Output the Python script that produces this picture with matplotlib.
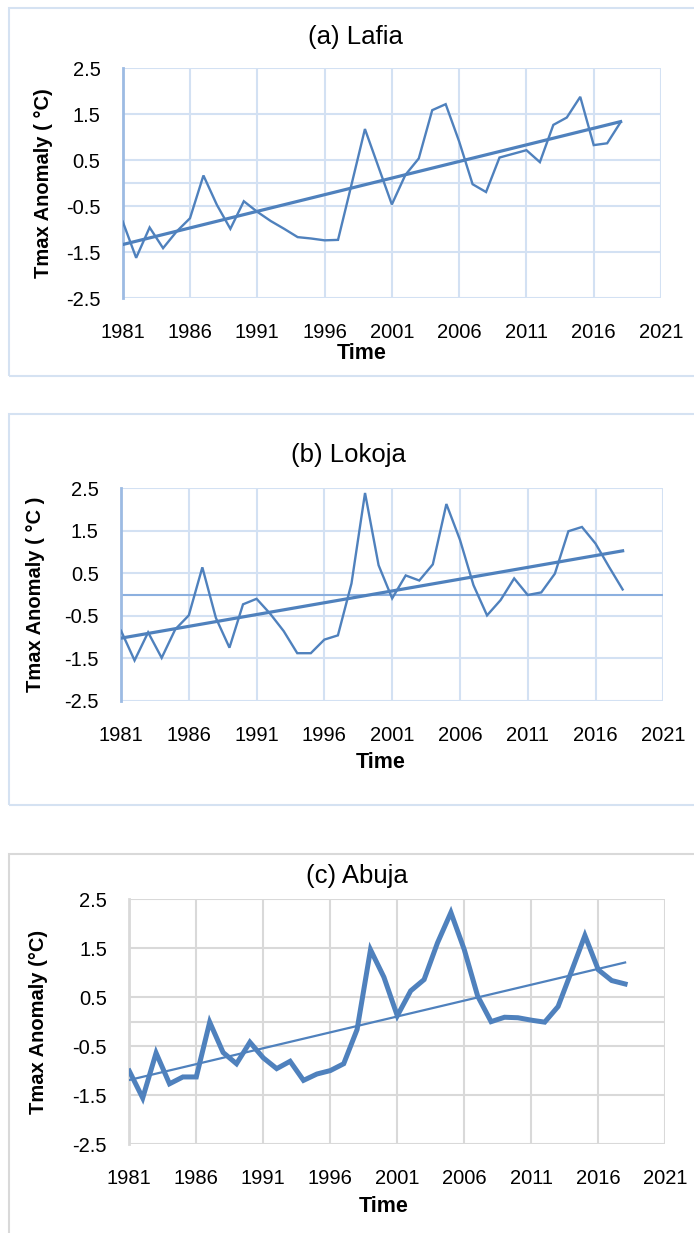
import matplotlib
matplotlib.use('Agg')
import matplotlib.pyplot as plt
from matplotlib.patches import Rectangle
import numpy as np

plt.rcParams['font.family'] = ['Liberation Sans', 'DejaVu Sans']

years = np.arange(1981, 2019)

# Tmax anomalies (degC) per station
lafia = [-0.83, -1.62, -0.96, -1.41, -1.05, -0.76, 0.17, -0.47, -0.99, -0.39,
         -0.62, -0.82, -0.99, -1.17, -1.20, -1.24, -1.23, -0.03, 1.18, 0.36,
         -0.46, 0.18, 0.54, 1.59, 1.72, 0.91, -0.02, -0.19, 0.56, 0.64,
         0.72, 0.46, 1.27, 1.43, 1.88, 0.83, 0.87, 1.33]
lokoja = [-0.85, -1.55, -0.89, -1.49, -0.82, -0.49, 0.64, -0.55, -1.25, -0.23,
          -0.10, -0.45, -0.86, -1.38, -1.38, -1.06, -0.96, 0.26, 2.39, 0.69,
          -0.09, 0.45, 0.33, 0.71, 2.13, 1.29, 0.22, -0.49, -0.13, 0.38,
          -0.01, 0.05, 0.49, 1.49, 1.59, 1.20, 0.65, 0.12]
abuja = [-1.01, -1.56, -0.64, -1.27, -1.13, -1.13, -0.01, -0.63, -0.86, -0.42,
         -0.74, -0.96, -0.81, -1.20, -1.07, -1.00, -0.86, -0.16, 1.47, 0.91,
         0.12, 0.63, 0.86, 1.61, 2.23, 1.47, 0.52, 0.00, 0.09, 0.08,
         0.03, -0.01, 0.31, 1.03, 1.76, 1.06, 0.84, 0.77]

titles = ['(a) Lafia', '(b) Lokoja', '(c) Abuja']
ylabels = ['Tmax Anomaly ( \u00b0C)', 'Tmax Anomaly ( \u00b0C )', 'Tmax Anomaly (\u00b0C)']
xticks = np.arange(1981, 2022, 5)
yticks = [-2.5, -1.5, -0.5, 0.5, 1.5, 2.5]

W, H = 694, 1233
blue = '#4f81bd'

fig = plt.figure(figsize=(W / 100, H / 100), dpi=100)

def fx(px):
    return px / W

def fy(py):
    return 1 - py / H

# plot boxes in pixels: left, right, top, bottom
boxes = [(122.7, 661, 68.3, 298.3), (121, 663.3, 488.3, 700.8), (129.3, 665.3, 899.3, 1144)]
# outer frames: top, bottom
frames = [(7.5, 375.7), (414, 805), (854, 1240)]
title_xy = [(355, 37), (348, 455), (357, 876)]
ylab_x = [44, 36, 39]
time_xy = [(362, 353), (381, 763), (384, 1206)]

series = [lafia, lokoja, abuja]
grid_cols = ['#d3e1f3', '#d3e1f3', '#d9d9d9']
spine_cols = ['#9dbbe3', '#9dbbe3', '#d9d9d9']
frame_cols = ['#d5e2f2', '#d5e2f2', '#d9d9d9']
data_lw = [1.7, 1.7, 3.6]
trend_lw = [2.3, 2.3, 1.6]

for i in range(3):
    l, r, t, b = boxes[i]
    ft, fb = frames[i]
    fig.patches.append(Rectangle((fx(8.5), fy(fb)), fx(W + 10) - fx(8.5), fy(ft) - fy(fb),
                                 transform=fig.transFigure, fill=False,
                                 edgecolor=frame_cols[i], linewidth=1.5))

    ax = fig.add_axes([fx(l), fy(b), fx(r) - fx(l), fy(t) - fy(b)])
    ax.set_xlim(1981, 2021)
    ax.set_ylim(-2.5, 2.5)
    ax.set_xticks(xticks)
    ax.set_xticklabels([str(x) for x in xticks])
    ax.set_yticks(yticks)
    ax.set_yticklabels([str(y) for y in yticks])
    ax.tick_params(length=0, labelsize=14.5)
    ax.tick_params(axis='x', pad=18)
    ax.tick_params(axis='y', pad=16)

    for x in xticks:
        ax.axvline(x, color=grid_cols[i], lw=1.5, zorder=1)
    for y in yticks:
        ax.axhline(y, color=grid_cols[i], lw=1.5, zorder=1)
    if i == 1:
        ax.axhline(0, color='#8cb0df', lw=1.5, zorder=1)
    else:
        ax.axhline(0, color=grid_cols[i], lw=1.5, zorder=1)

    for s in ['top', 'right', 'bottom']:
        ax.spines[s].set_visible(False)
    ax.spines['left'].set_color(spine_cols[i])
    ax.spines['left'].set_linewidth(2)

    y = np.array(series[i])
    ax.plot(years, y, color=blue, lw=data_lw[i], zorder=3, solid_joinstyle='miter')
    k, c = np.polyfit(years, y, 1)
    ax.plot(years[[0, -1]], k * years[[0, -1]] + c, color=blue, lw=trend_lw[i], zorder=4)

    fig.text(fx(title_xy[i][0]), fy(title_xy[i][1]), titles[i], ha='center', va='center',
             fontsize=18.5)
    fig.text(fx(ylab_x[i]), fy((t + b) / 2), ylabels[i], ha='center', va='center',
             rotation=90, fontsize=14.5, fontweight='bold')
    fig.text(fx(time_xy[i][0]), fy(time_xy[i][1]), 'Time', ha='center', va='center',
             fontsize=15.5, fontweight='bold')

fig.savefig('out.png', dpi=100)
